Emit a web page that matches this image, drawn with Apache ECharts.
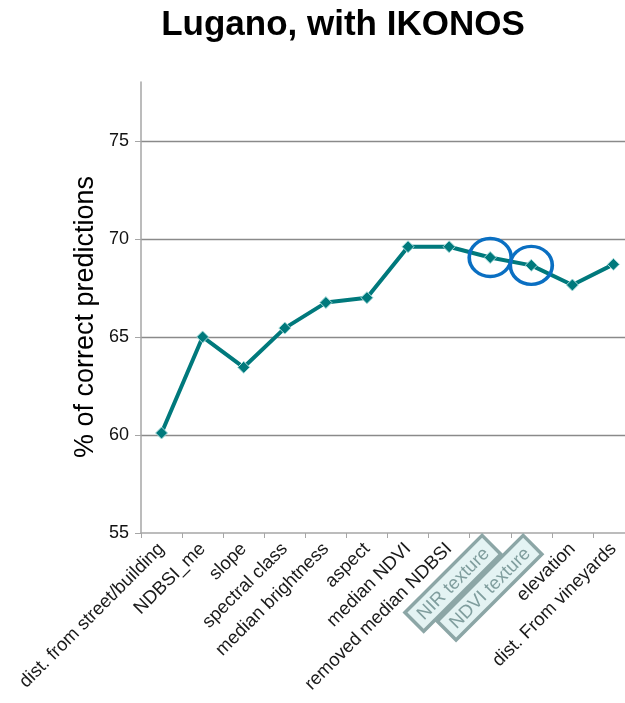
<!DOCTYPE html>
<html><head><meta charset="utf-8">
<script src="https://cdn.jsdelivr.net/npm/echarts@6/dist/echarts.min.js"></script>
<style>html,body{margin:0;padding:0;background:#fff}#c{width:625px;height:703px}</style>
</head><body><div id="c"></div>
<script>
const categories = ['dist. from street/building','NDBSI_me','slope','spectral class','median brightness','aspect','median NDVI','removed median NDBSI','NIR texture','NDVI texture','elevation','dist. From vineyards'];
const values = [60.1, 65.0, 63.45, 65.45, 66.75, 67.0, 69.6, 69.6, 69.05, 68.65, 67.65, 68.7];
const boxedLabels = ['NIR texture','NDVI texture'];
const yTicks = [55, 60, 65, 70, 75];

const chart = echarts.init(document.getElementById('c'), null, {renderer:'canvas'});
const FONT = '"Liberation Sans", Arial, sans-serif';
const circleData = categories.map((c,i)=> boxedLabels.includes(c) ? [c, values[i]] : null).filter(Boolean);
chart.setOption({
  animation:false,
  title:{text:'Lugano, with IKONOS', left:338, textAlign:'center', top:3,
    textStyle:{fontFamily:FONT, fontSize:35, fontWeight:'bold', color:'#000'}},
  grid:{left:141, top:82, width:493, height:451, containLabel:false, outerBoundsMode:'none'},
  graphic:[{type:'text', x:86, y:317, rotation:Math.PI/2,
    style:{text:'% of correct predictions', fontFamily:FONT, fontSize:27, fill:'#000',
      align:'center', verticalAlign:'middle'}}],
  xAxis:{type:'category', data:categories, boundaryGap:true,
    axisLine:{lineStyle:{color:'#a6a6a6', width:1.5}},
    axisTick:{show:true, alignWithLabel:false, length:5, lineStyle:{color:'#a6a6a6'}},
    axisLabel:{rotate:45, interval:0, fontFamily:FONT, fontSize:18.5, color:'#1a1a1a', margin:13,
      formatter:v=> boxedLabels.includes(v) ? '{box|'+v+'}' : v,
      rich:{box:{fontFamily:FONT, fontSize:18.5, color:'#7f9d9d', backgroundColor:'#e4f3f3',
        borderColor:'#8ca6a6', borderWidth:3.5, padding:[3,6,1,6]}}}},
  yAxis:{type:'value', min:55, max:78, interval:5,
    axisLine:{show:true, lineStyle:{color:'#a6a6a6', width:1.5}},
    axisTick:{show:true, length:6, lineStyle:{color:'#a6a6a6'}},
    axisLabel:{fontFamily:FONT, fontSize:18, color:'#111', margin:12, showMaxLabel:false,
      formatter:v=> yTicks.includes(v) ? String(v) : ''},
    splitLine:{show:true, showMinLine:false, showMaxLine:false, lineStyle:{color:'#8a8a8a', width:1.3}}},
  series:[
    {type:'line', data:values, symbol:'diamond', symbolSize:12,
      lineStyle:{color:'#00797c', width:4},
      itemStyle:{color:'#00797c', borderColor:'#a9dcdc', borderWidth:1},
      z:3},
    {type:'scatter', data:circleData, symbol:'circle', symbolSize:[42,38],
      itemStyle:{color:'rgba(0,0,0,0)', borderColor:'#0a6fc2', borderWidth:3.5, opacity:1},
      z:4, silent:true}
  ]
});
</script></body></html>
